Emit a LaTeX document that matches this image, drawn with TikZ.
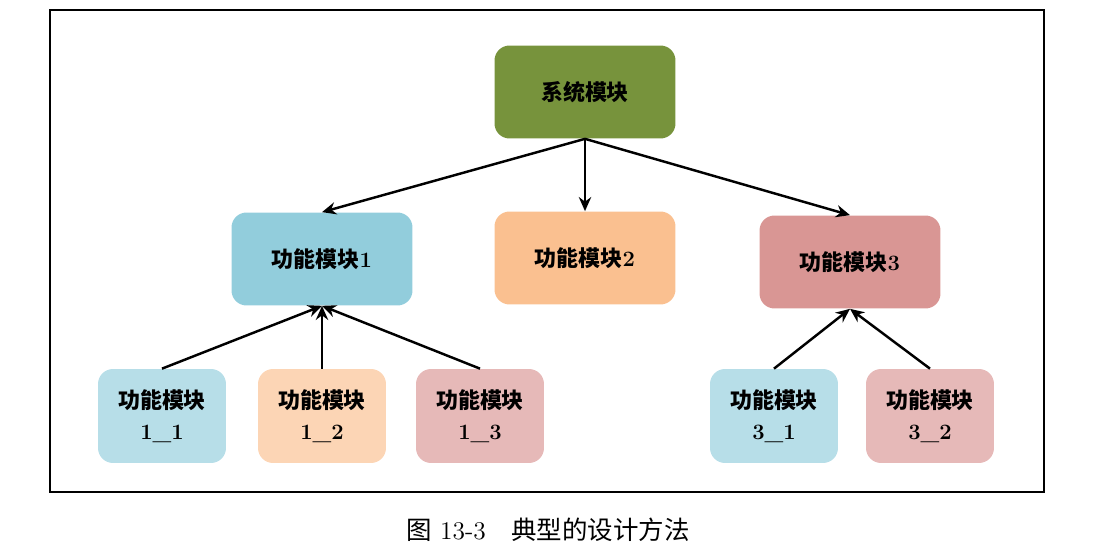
\documentclass[tikz,border=0pt]{standalone}
\usepackage{fontspec}
\newfontfamily\cjk{Noto Sans CJK SC}
\usetikzlibrary{arrows.meta}
\newcommand{\zh}[1]{{\cjk #1}}
\definecolor{sysgreen}{HTML}{77933C}
\definecolor{midblue}{HTML}{92CDDC}
\definecolor{midpeach}{HTML}{FAC090}
\definecolor{midrose}{HTML}{D99694}
\definecolor{lowblue}{HTML}{B7DEE8}
\definecolor{lowpeach}{HTML}{FCD5B5}
\definecolor{lowrose}{HTML}{E6B9B8}

\begin{document}
\begin{tikzpicture}[x=0.02cm, y=-0.02cm,
          mbox/.style={rectangle, rounded corners=0.3cm, minimum width=3.62cm,
              minimum height=1.86cm, inner sep=0pt, align=center,
              font=\fontsize{12.5}{18}\selectfont\bfseries},
          sbox/.style={mbox, minimum width=2.56cm, minimum height=1.88cm},
          arr/.style={-{Stealth[length=8pt, width=7pt]}, line width=1.4pt}
        ]
        \useasboundingbox (0,0) rectangle (1120,557);
        \draw[line width=1.4pt] (50,10) rectangle (1044,492);
        % top
        \node[mbox, fill=sysgreen] (sys) at (585,92)  {\zh{系统模块}};
        % middle row
        \node[mbox, fill=midblue]  (f1)  at (322,259) {\zh{功能模块}1};
        \node[mbox, fill=midpeach] (f2)  at (585,258) {\zh{功能模块}2};
        \node[mbox, fill=midrose]  (f3)  at (850,262) {\zh{功能模块}3};
        % bottom row
        \node[sbox, fill=lowblue]  (f11) at (162,416) {\zh{功能模块}\\1\_1};
        \node[sbox, fill=lowpeach] (f12) at (322,416) {\zh{功能模块}\\1\_2};
        \node[sbox, fill=lowrose]  (f13) at (480,416) {\zh{功能模块}\\1\_3};
        \node[sbox, fill=lowblue]  (f31) at (774,416) {\zh{功能模块}\\3\_1};
        \node[sbox, fill=lowrose]  (f32) at (930,416) {\zh{功能模块}\\3\_2};
        \draw[arr] (sys.south) -- (f1.north);
        \draw[arr] (sys.south) -- (f2.north);
        \draw[arr] (sys.south) -- (f3.north);
        \draw[arr] (f11.north) -- (f1.south);
        \draw[arr] (f12.north) -- (f1.south);
        \draw[arr] (f13.north) -- (f1.south);
        \draw[arr] (f31.north) -- (f3.south);
        \draw[arr] (f32.north) -- (f3.south);
        % caption
        \node[font=\fontsize{14.5}{17}\selectfont] (cap) at (548,530)
            {\zh{图} 13-3\quad\zh{典型的设计方法}};
      \end{tikzpicture}
\end{document}
